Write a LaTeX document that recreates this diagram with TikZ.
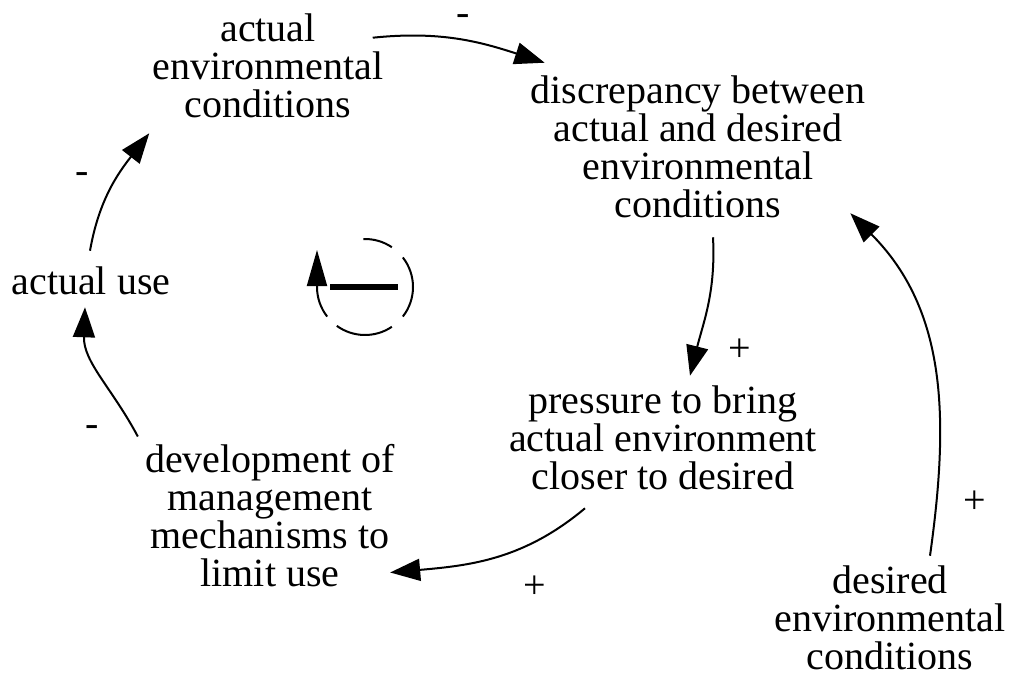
\documentclass[tikz,border=0pt]{standalone}
\usepackage{fontspec}
\setmainfont{Liberation Serif}
\usetikzlibrary{arrows.meta}
\tikzset{
  var/.style={align=center,inner sep=0pt,font=\fontsize{40pt}{38pt}\selectfont},
  link/.style={line width=2pt,-{Triangle[length=30pt,width=22pt]}},
  polarity/.style={inner sep=0pt,font=\fontsize{40pt}{38pt}\selectfont},
  looparc/.style={line width=2pt}
}
\begin{document}
\begin{tikzpicture}[x=1pt,y=-1pt]
\useasboundingbox (0,0) rectangle (1011,679);
% variables
\node[var] (aec) at (268,66) {actual\\environmental\\conditions};
\node[var] (disc) at (698,147) {discrepancy between\\actual and desired\\environmental\\conditions};
\node[var] (press) at (663,438) {pressure to bring\\actual environment\\closer to desired};
\node[var] (dev) at (270,516) {development of\\management\\mechanisms to\\limit use};
\node[var] (use) at (91,281) {actual use};
\node[var] (des) at (890,618) {desired\\environmental\\conditions};
% links
\draw[link] ([xshift=-11pt,yshift=-24pt]aec.north east) to[out=6,in=162] ([xshift=14pt,yshift=13pt]disc.north west);
\draw[link] ([xshift=15pt,yshift=-19pt]disc.south) to[out=-87,in=76] ([xshift=27pt,yshift=10pt]press.north);
\draw[link] ([xshift=-78pt,yshift=-18pt]press.south) to[out=-140,in=5] ([xshift=-5pt,yshift=15pt]dev.south east);
\draw[link] ([xshift=-7pt,yshift=8pt]dev.north west) to[out=118,in=-92] ([xshift=-6pt,yshift=-12pt]use.south);
\draw[link] ([xshift=-1pt,yshift=16pt]use.north) to[out=80,in=232] ([xshift=-3pt,yshift=-15pt]aec.south west);
\draw[link] ([xshift=40pt,yshift=10pt]des.north) to[out=82,in=-45] ([xshift=-15pt,yshift=5pt]disc.south east);
% polarities
\node[polarity] (p1) at (463,20) {-};
\node[polarity] (p2) at (740,350) {+};
\node[polarity] (p3) at (535,587) {+};
\node[polarity] (p4) at (92,431) {-};
\node[polarity] (p5) at (82,178) {-};
\node[polarity] (p6) at (975,502) {+};
% loop sign
\coordinate (loop) at (365,287);
\draw[looparc] (loop) ++(92:48pt) arc[start angle=92,end angle=56,radius=48pt];
\draw[looparc] (loop) ++(38:48pt) arc[start angle=38,end angle=-38,radius=48pt];
\draw[looparc] (loop) ++(-56:48pt) arc[start angle=-56,end angle=-126,radius=48pt];
\draw[looparc,-{Triangle[length=36pt,width=20pt]}] (loop) ++(218:48pt) arc[start angle=218,end angle=180,radius=48pt] -- ++(0,37pt);
\draw[line width=6pt] ([xshift=-35pt]loop) -- ([xshift=33pt]loop);
\end{tikzpicture}
\end{document}
